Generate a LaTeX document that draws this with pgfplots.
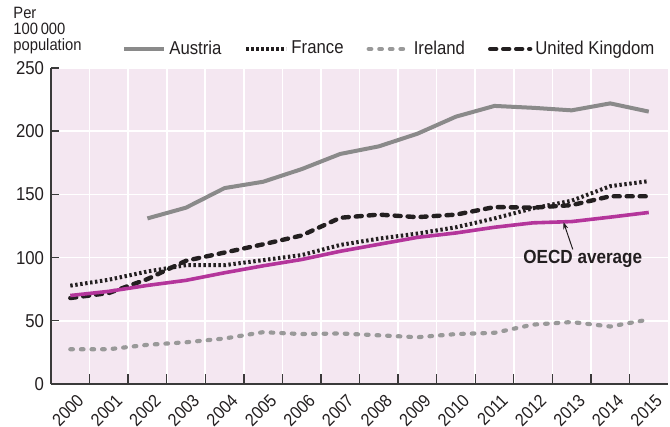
\documentclass[border=0pt]{standalone}
\usepackage{pgfplots}
\pgfplotsset{compat=1.18}
\usepackage{fontspec}
\setmainfont[FakeStretch=0.9]{Liberation Sans}
\usetikzlibrary{arrows.meta}

\definecolor{bgpink}{HTML}{F4E7F1}
\definecolor{oecdmag}{HTML}{B4359B}
\definecolor{austgray}{HTML}{8A8A8A}
\definecolor{iregray}{HTML}{999999}
\definecolor{inkblack}{HTML}{231F20}
\definecolor{axisgray}{HTML}{3A3A3A}

\begin{document}
\begin{tikzpicture}
\begin{axis}[
    scale only axis,
    width=308.5pt,
    height=158pt,
    xmin=-0.5, xmax=15.5,
    ymin=0, ymax=250,
    axis background/.style={fill=bgpink},
    axis x line*=bottom,
    axis y line*=left,
    axis line style={-, draw=axisgray, line width=0.8pt},
    xtick={0,...,15},
    xticklabels={2000,2001,2002,2003,2004,2005,2006,2007,2008,2009,2010,2011,2012,2013,2014,2015},
    minor xtick={0.5,1.5,...,14.5},
    ytick={0,50,100,150,200,250},
    tick align=inside,
    major tick length=4pt,
    minor tick length=5pt,
    major x tick style={draw=none},
    tick style={draw=axisgray, line width=0.7pt},
    xminorgrids=true,
    ymajorgrids=true,
    grid style={white, line width=0.8pt},
    /pgf/number format/assume math mode=true,
    ticklabel style={font=\fontsize{9.3}{11}\selectfont, text=inkblack},
    xticklabel style={rotate=45, anchor=north east, inner sep=0.5pt,
        font=\fontsize{8.9}{10}\selectfont, xshift=-0.5pt, yshift=-4.5pt},
    yticklabel style={/pgf/number format/fixed},
    legend columns=4,
    legend style={at={(0.115,1.06)}, anchor=west, draw=none, fill=none,
        inner sep=0pt, font=\fontsize{9.3}{11}\selectfont,
        nodes={inner xsep=1.5pt, inner ysep=0pt, text=inkblack},
        /tikz/every even column/.append style={column sep=10pt}},
    legend cell align=left,
    legend image code/.code={\draw[#1] (0pt,0pt) -- (20pt,0pt);},
    clip=false,
]
% Austria
\addplot[austgray, line width=2pt, line join=round] coordinates {
    (2,131) (3,139.5) (4,155) (5,160) (6,170) (7,182) (8,188) (9,198)
    (10,211.5) (11,220) (12,218.5) (13,216.5) (14,222) (15,215.5)
};
\addlegendentry{Austria}
% France
\addplot[inkblack, line width=2pt, dash pattern=on 1.2pt off 1.3pt] coordinates {
    (0,77.8) (1,82.5) (2,89) (3,94) (4,94) (5,98) (6,102) (7,110)
    (8,115) (9,119) (10,124) (11,131) (12,139) (13,145) (14,156.5) (15,160.5)
};
\addlegendentry{France}
% Ireland
\addplot[iregray, line width=2.1pt, line cap=round, dash pattern=on 1.3pt off 4pt] coordinates {
    (0,27.5) (1,27.5) (2,31) (3,33) (4,36) (5,41) (6,39.5) (7,40)
    (8,38.5) (9,37) (10,39.5) (11,40.5) (12,47) (13,49) (14,45.5) (15,51)
};
\addlegendentry{Ireland}
% United Kingdom
\addplot[inkblack, line width=2.2pt, line cap=round, dash pattern=on 3pt off 3.5pt] coordinates {
    (0,68) (1,72) (2,83) (3,97.5) (4,104) (5,110.5) (6,117.5) (7,131.5)
    (8,134) (9,132) (10,134) (11,140) (12,139.5) (13,141.5) (14,148.5) (15,148.5)
};
\addlegendentry{United Kingdom}
% OECD average
\addplot[oecdmag, line width=1.8pt, line join=round, forget plot] coordinates {
    (0,70) (1,73.3) (2,78) (3,82) (4,88) (5,93.5) (6,98.5) (7,105)
    (8,110.5) (9,116) (10,119.5) (11,124) (12,127.5) (13,128.5) (14,132) (15,135.7)
};

\draw[-{Stealth[length=3.5pt,width=2.5pt]}, inkblack, line width=0.5pt]
    (axis cs:13.03,106.5) -- (axis cs:12.79,128);
\node[font=\fontsize{9.5}{11}\selectfont\bfseries, text=inkblack]
    at (axis cs:13.29,99) {OECD average};

\node[anchor=north west, align=left, inner sep=0pt, text=inkblack,
      font=\fontsize{8.2}{8.2}\selectfont]
    at (rel axis cs:-0.0616,1.195) {Per\\100\,000\\population};

\coordinate (bbsw) at (rel axis cs:-0.0827,-0.136);
\coordinate (bbne) at (rel axis cs:1.0032,1.2152);
\end{axis}
\pgfresetboundingbox
\path[use as bounding box] (bbsw) rectangle (bbne);
\end{tikzpicture}
\end{document}
